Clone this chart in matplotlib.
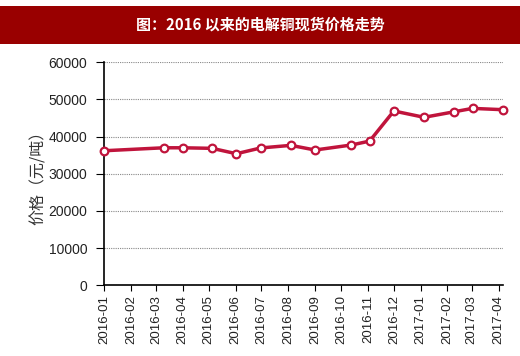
import datetime as dt
import matplotlib
matplotlib.use('Agg')
import matplotlib.pyplot as plt
import matplotlib.dates as mdates
from matplotlib.patches import Rectangle

plt.rcParams['font.family'] = ['Liberation Sans', 'Noto Sans CJK SC', 'DejaVu Sans']

title = '图：2016 以来的电解铜现货价格走势'
ylabel = '价格（元/吨）'

dates = ['2016-01-01', '2016-03-10', '2016-04-01', '2016-05-05', '2016-06-02',
         '2016-06-30', '2016-08-04', '2016-09-01', '2016-10-13', '2016-11-03',
         '2016-12-01', '2017-01-05', '2017-02-09', '2017-03-02', '2017-04-06']
prices = [36200, 37000, 37000, 36850, 35400, 36950, 37650, 36400, 37750,
          38800, 46900, 45200, 46700, 47600, 47250]
yticks = [0, 10000, 20000, 30000, 40000, 50000, 60000]

x = [dt.datetime.strptime(d, '%Y-%m-%d') for d in dates]

fig = plt.figure(figsize=(5.2, 3.56), dpi=100, facecolor='white')

# title bar
fig.patches.append(Rectangle((0, 1 - 44/356), 1, 38/356, transform=fig.transFigure,
                             facecolor='#990000', edgecolor='none', zorder=0))
fig.text(0.5, 1 - 25/356, title, color='white', fontsize=10.8, fontweight='bold',
         ha='center', va='center', family=['Noto Sans CJK SC', 'DejaVu Sans'])

ax = fig.add_axes([0.2, 0.1986, 0.767, 0.6264])
ax.plot(x, prices, color='#c0143c', lw=2.5, marker='o', ms=5.5,
        mfc='white', mec='#c0143c', mew=1.6, zorder=3, clip_on=False)

ax.set_ylim(0, 60000)
ax.set_yticks(yticks)
ax.set_xlim(x[0], x[-1])
ax.xaxis.set_major_locator(mdates.MonthLocator())
ax.xaxis.set_major_formatter(mdates.DateFormatter('%Y-%m'))
ax.tick_params(axis='x', rotation=90, labelsize=9.5, length=4, pad=3)
ax.tick_params(axis='y', labelsize=10, length=6, pad=6)
ax.grid(axis='y', color='#888888', ls=(0, (1, 1)), lw=0.8)
for s in ['top', 'right']:
    ax.spines[s].set_visible(False)
for s in ['left', 'bottom']:
    ax.spines[s].set_linewidth(1.2)
ax.set_ylabel(ylabel, fontsize=11.5, family=['Noto Sans CJK SC', 'DejaVu Sans'],
              color='#333333', labelpad=1)
for lbl in ax.get_xticklabels() + ax.get_yticklabels():
    lbl.set_color('#222222')

fig.savefig('out.png', dpi=100)
